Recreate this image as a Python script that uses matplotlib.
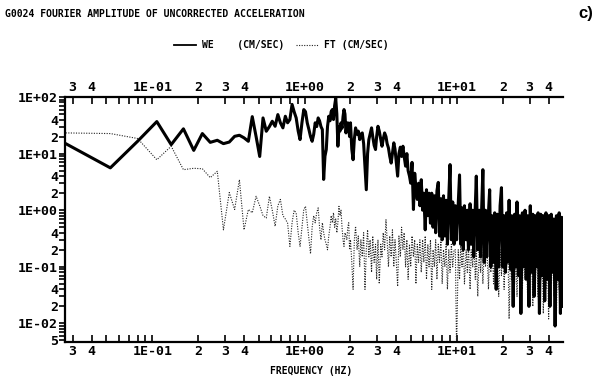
import matplotlib
matplotlib.use("Agg")
import matplotlib.pyplot as plt
from matplotlib.ticker import FixedLocator, FixedFormatter, NullFormatter

plt.rcParams['font.family'] = ['DejaVu Sans Mono', 'DejaVu Sans']
plt.rcParams['font.weight'] = 'bold'

# frequency grid (Hz): low part every ~0.0267 Hz, high part sampled
freq_lo = [0.027, 0.053, 0.08, 0.107, 0.133, 0.16, 0.187, 0.213, 0.24, 0.267,
           0.293, 0.32, 0.347, 0.373, 0.4, 0.427, 0.453, 0.48, 0.507, 0.533,
           0.56, 0.587, 0.613, 0.64, 0.667, 0.693, 0.72, 0.747, 0.773, 0.8,
           0.827, 0.853, 0.88, 0.907, 0.933, 0.96, 0.987, 1.013, 1.04, 1.067,
           1.093, 1.12, 1.147, 1.173, 1.2, 1.227, 1.253, 1.28, 1.307, 1.333,
           1.36, 1.387, 1.413, 1.44, 1.467, 1.493, 1.52, 1.547, 1.573, 1.6,
           1.627, 1.653, 1.68, 1.707, 1.733, 1.76, 1.787, 1.813, 1.84, 1.867,
           1.893, 1.92, 1.947, 1.973]
freq_hi = [2.0, 2.04, 2.08, 2.12, 2.16, 2.21, 2.25, 2.3, 2.34, 2.39,
           2.44, 2.49, 2.54, 2.59, 2.64, 2.69, 2.75, 2.8, 2.86, 2.92,
           2.97, 3.03, 3.09, 3.16, 3.22, 3.28, 3.35, 3.42, 3.48, 3.55,
           3.62, 3.7, 3.77, 3.85, 3.92, 4.0, 4.08, 4.16, 4.25, 4.33,
           4.42, 4.5, 4.6, 4.69, 4.78, 4.88, 4.97, 5.07, 5.18, 5.28,
           5.38, 5.49, 5.6, 5.71, 5.83, 5.95, 6.06, 6.19, 6.31, 6.44,
           6.56, 6.7, 6.83, 6.97, 7.11, 7.25, 7.39, 7.54, 7.69, 7.85,
           8.0, 8.16, 8.33, 8.49, 8.66, 8.84, 9.01, 9.19, 9.38, 9.57,
           9.76, 9.95, 10.2, 10.4, 10.6, 10.8, 11.0, 11.2, 11.5, 11.7,
           11.9, 12.2, 12.4, 12.7, 12.9, 13.2, 13.4, 13.7, 14.0, 14.3,
           14.5, 14.8, 15.1, 15.4, 15.7, 16.1, 16.4, 16.7, 17.0, 17.4,
           17.7, 18.1, 18.4, 18.8, 19.2, 19.6, 20.0, 20.4, 20.8, 21.2,
           21.6, 22.0, 22.5, 22.9, 23.4, 23.9, 24.3, 24.8, 25.3, 25.8,
           26.3, 26.9, 27.4, 28.0, 28.5, 29.1, 29.7, 30.3, 30.9, 31.5,
           32.1, 32.8, 33.4, 34.1, 34.8, 35.5, 36.2, 36.9, 37.7, 38.4,
           39.2, 40.0, 40.8, 41.6, 42.4, 43.3, 44.1, 45.0, 45.9, 46.9,
           47.8, 48.8, 49.7]

# WE component amplitude (cm/sec)
we_lo = [15.0, 5.6, 16.5, 36.8, 14.4, 27.4, 11.4, 22.6, 15.8, 17.2,
         15.0, 16.0, 20.2, 21.1, 19.0, 16.5, 45.0, 20.0, 8.9, 42.7,
         24.8, 30.0, 37.3, 30.4, 48.9, 35.0, 28.5, 45.7, 35.0, 40.0,
         74.0, 55.0, 42.7, 25.0, 17.7, 35.0, 60.0, 55.0, 35.0, 26.6,
         20.0, 16.5, 22.0, 35.0, 30.0, 42.7, 38.0, 30.0, 26.6, 3.5,
         9.0, 11.8, 30.0, 45.7, 38.0, 55.0, 60.0, 40.0, 70.0, 95.0,
         50.0, 13.5, 30.0, 25.0, 35.0, 28.0, 45.0, 60.0, 50.0, 23.2,
         30.0, 35.0, 28.0, 20.0]
we_hi = [35, 12, 7.8, 18, 28.5, 22, 25, 17.7, 22, 23.2,
         15, 6, 2.3, 10, 17.7, 22, 28.5, 20, 14, 11.8,
         20, 30.4, 25, 18, 13.5, 18, 23.2, 20, 15, 12.6,
         9, 6.8, 10, 15.5, 12, 7, 4.0, 10, 13, 8.9,
         13.5, 9, 6, 10, 5, 4, 3, 7, 1.03, 4.5,
         2.5, 1.55, 3.0, 1.2, 3.46, 1.0, 2.0, 0.45, 2.3, 0.8,
         2.0, 0.59, 2.0, 0.5, 1.8, 0.4, 2.2, 3.1, 0.35, 1.6,
         0.3, 1.8, 0.35, 1.5, 0.25, 1.7, 6.4, 0.3, 1.4, 0.25,
         1.2, 0.3, 1.3, 4.2, 0.25, 1.1, 0.2, 1.2, 0.3, 1.0,
         0.2, 1.3, 0.25, 1.0, 0.15, 1.2, 4.0, 0.2, 1.0, 0.15,
         0.9, 5.2, 0.12, 1.0, 0.15, 0.9, 2.3, 0.1, 0.8, 0.12,
         0.9, 0.04, 0.85, 0.1, 1.2, 2.5, 0.1, 0.8, 0.08, 0.9,
         0.12, 1.5, 0.09, 0.8, 0.02, 0.85, 0.1, 1.4, 0.07, 0.8,
         0.015, 0.9, 0.1, 1.0, 0.06, 0.8, 0.02, 1.2, 0.08, 0.85,
         0.03, 0.8, 0.1, 0.9, 0.015, 0.85, 0.07, 0.8, 0.025, 0.9,
         0.06, 0.8, 0.02, 0.85, 0.08, 0.7, 0.009, 0.8, 0.06, 0.9,
         0.015, 0.75, 0.02]

# FT component amplitude (cm/sec)
ft_lo = [23.2, 22.6, 18.5, 7.8, 13.5, 5.2, 5.5, 5.4, 3.76, 4.87,
         0.45, 2.05, 1.03, 3.46, 0.45, 1.03, 0.9, 1.76, 1.2, 0.8,
         0.73, 1.76, 1.0, 0.52, 1.2, 1.55, 0.8, 0.7, 0.59, 0.23,
         0.6, 1.0, 0.89, 0.4, 0.23, 0.5, 1.03, 1.17, 0.6, 0.3,
         0.17, 0.5, 0.8, 0.6, 0.9, 1.1, 0.5, 0.3, 0.6, 0.4,
         0.3, 0.25, 0.2, 0.35, 0.5, 0.8, 0.6, 0.9, 0.5, 0.7,
         0.4, 0.6, 1.17, 0.8, 1.0, 0.5, 0.3, 0.23, 0.4, 0.35,
         0.3, 0.5, 0.6, 0.2]
ft_hi = [0.3, 0.12, 0.04, 0.3, 0.52, 0.2, 0.35, 0.1, 0.3, 0.15,
         0.4, 0.04, 0.2, 0.45, 0.15, 0.3, 0.08, 0.35, 0.12, 0.25,
         0.06, 0.3, 0.05, 0.25, 0.15, 0.4, 0.2, 0.68, 0.3, 0.1,
         0.35, 0.15, 0.45, 0.1, 0.3, 0.12, 0.045, 0.35, 0.15, 0.5,
         0.2, 0.4, 0.1, 0.3, 0.06, 0.25, 0.1, 0.35, 0.15, 0.3,
         0.05, 0.25, 0.12, 0.3, 0.08, 0.3, 0.12, 0.35, 0.06, 0.25,
         0.1, 0.3, 0.04, 0.2, 0.1, 0.3, 0.06, 0.25, 0.12, 0.3,
         0.05, 0.2, 0.1, 0.25, 0.04, 0.2, 0.08, 0.25, 0.1, 0.2,
         0.2, 0.003, 0.2, 0.06, 0.25, 0.1, 0.3, 0.05, 0.2, 0.08,
         0.25, 0.04, 0.2, 0.1, 0.3, 0.06, 0.2, 0.03, 0.2, 0.08,
         0.25, 0.05, 0.2, 0.1, 0.3, 0.04, 0.2, 0.08, 0.25, 0.05,
         0.2, 0.1, 0.3, 0.03, 0.2, 0.07, 0.25, 0.04, 0.2, 0.1,
         0.25, 0.012, 0.2, 0.06, 0.25, 0.05, 0.2, 0.03, 0.25, 0.08,
         0.2, 0.04, 0.25, 0.06, 0.2, 0.03, 0.25, 0.07, 0.2, 0.02,
         0.25, 0.05, 0.2, 0.03, 0.25, 0.06, 0.2, 0.015, 0.25, 0.04,
         0.2, 0.012, 0.25, 0.05, 0.2, 0.03, 0.25, 0.015, 0.2, 0.04,
         0.25, 0.03, 0.2]

x_ticks = [0.03, 0.04, 0.1, 0.2, 0.3, 0.4, 1, 2, 3, 4, 10, 20, 30, 40]
x_labels = ["3", "4", "1E-01", "2", "3", "4", "1E+00", "2", "3", "4",
            "1E+01", "2", "3", "4"]
x_minor = [0.05, 0.06, 0.07, 0.08, 0.09, 0.5, 0.6, 0.7, 0.8, 0.9,
           5, 6, 7, 8, 9]
y_ticks = [100, 40, 20, 10, 4, 2, 1, 0.4, 0.2, 0.1, 0.04, 0.02, 0.01, 0.005]
y_labels = ["1E+02", "4", "2", "1E+01", "4", "2", "1E+00", "4", "2",
            "1E-01", "4", "2", "1E-02", "5"]
y_minor = [90, 80, 70, 60, 50, 30, 9, 8, 7, 6, 5, 3, 0.9, 0.8, 0.7, 0.6,
           0.5, 0.3, 0.09, 0.08, 0.07, 0.06, 0.05, 0.03, 0.009, 0.008,
           0.007, 0.006]

freq = freq_lo + freq_hi
we = we_lo + we_hi
ft = ft_lo + ft_hi

fig = plt.figure(figsize=(5.99, 3.81), dpi=100)
ax = fig.add_axes([0.1085, 0.1024, 0.8314, 0.643])

ft_line, = ax.plot(freq, ft, color='#222222', lw=0.8, linestyle=(0, (1, 1.3)), zorder=2)
we_line, = ax.plot(freq, we, color='black', lw=2.2, zorder=3)

ax.set_xscale('log')
ax.set_yscale('log')
ax.set_xlim(0.0267, 49.7)
ax.set_ylim(0.0047, 100)

ax.spines['right'].set_visible(False)
for s in ['left', 'top', 'bottom']:
    ax.spines[s].set_linewidth(1.6)

ax.xaxis.set_major_locator(FixedLocator(x_ticks))
ax.xaxis.set_major_formatter(FixedFormatter(x_labels))
ax.xaxis.set_minor_locator(FixedLocator(x_minor))
ax.xaxis.set_minor_formatter(NullFormatter())
ax.yaxis.set_major_locator(FixedLocator(y_ticks))
ax.yaxis.set_major_formatter(FixedFormatter(y_labels))
ax.yaxis.set_minor_locator(FixedLocator(y_minor))
ax.yaxis.set_minor_formatter(NullFormatter())

ax.tick_params(axis='x', which='both', direction='in', top=True, bottom=True,
               labeltop=True, labelbottom=True, length=5, width=1.2, pad=2,
               labelsize=9.5)
ax.tick_params(axis='y', which='both', direction='out', left=True, right=False,
               length=4, width=1.2, pad=1, labelsize=9.5)

leg = ax.legend([we_line, ft_line], ["WE    (CM/SEC)", "FT (CM/SEC)"],
                loc='center', bbox_to_anchor=(0.434, 1.212), ncol=2,
                frameon=False, handlelength=2.3, columnspacing=1.2,
                handletextpad=0.6, prop={'family': 'DejaVu Sans Mono',
                                         'weight': 'bold', 'size': 7})
leg.get_lines()[0].set_linewidth(1.3)

fig.text(0.008, 0.963, "G0024 FOURIER AMPLITUDE OF UNCORRECTED ACCELERATION",
         fontsize=7, fontweight='bold', va='center', ha='left')
fig.text(0.978, 0.965, "c)", fontsize=12, fontweight='bold', va='center',
         ha='center', family='Liberation Sans')
fig.text(0.519, 0.026, "FREQUENCY (HZ)", fontsize=7, fontweight='bold',
         va='center', ha='center')

fig.savefig("out.png", dpi=100)
